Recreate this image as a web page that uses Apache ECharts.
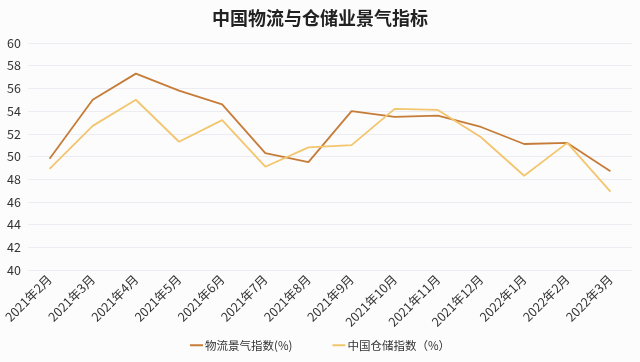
<!DOCTYPE html>
<html>
<head>
<meta charset="utf-8">
<script src="https://cdn.jsdelivr.net/npm/echarts@6/dist/echarts.min.js"></script>
<style>
html,body{margin:0;padding:0;background:#fcfcfd;}
#c{width:640px;height:362px;}
</style>
</head>
<body>
<div id="c"></div>
<script>
const categories = ['2021年2月','2021年3月','2021年4月','2021年5月','2021年6月','2021年7月','2021年8月','2021年9月','2021年10月','2021年11月','2021年12月','2022年1月','2022年2月','2022年3月'];
const logisticsIndex = [49.8, 55.0, 57.3, 55.8, 54.6, 50.3, 49.5, 54.0, 53.5, 53.6, 52.6, 51.1, 51.2, 48.7];
const storageIndex = [48.9, 52.7, 55.0, 51.3, 53.2, 49.1, 50.8, 51.0, 54.2, 54.1, 51.7, 48.3, 51.2, 46.9];
const seriesNames = ['物流景气指数(%)', '中国仓储指数（%）'];
const titleText = '中国物流与仓储业景气指标';

const chart = echarts.init(document.getElementById('c'));
const font = '"Noto Sans CJK SC", "Noto Sans", sans-serif';
chart.setOption({
  backgroundColor: '#fcfcfd',
  animation: false,
  title: {
    text: titleText, left: 'center', top: 4,
    textStyle: { fontSize: 18, fontWeight: 'bold', color: '#222', fontFamily: font }
  },
  legend: {
    bottom: 6, left: 'center', itemWidth: 13, itemHeight: 2, itemGap: 40,
    icon: 'rect',
    textStyle: { fontSize: 11.5, color: '#333', fontFamily: font, padding: [0, 0, 0, -3] },
    data: seriesNames
  },
  grid: { left: 28, right: 8, top: 43, bottom: 92, containLabel: false },
  xAxis: {
    type: 'category', data: categories, boundaryGap: true,
    axisLine: { show: false }, axisTick: { show: false },
    axisLabel: { rotate: 45, fontSize: 12.5, color: '#333', fontFamily: font, interval: 0, margin: 7 }
  },
  yAxis: {
    type: 'value', min: 40, max: 60, interval: 2,
    axisLine: { show: false }, axisTick: { show: false },
    axisLabel: { fontSize: 12.5, color: '#333', fontFamily: font, margin: 7, align: 'right' },
    splitLine: { lineStyle: { color: '#ebedf2', width: 1 } }
  },
  series: [
    { name: seriesNames[0], type: 'line', data: logisticsIndex, symbol: 'none',
      lineStyle: { color: '#c67c38', width: 1.8 }, itemStyle: { color: '#c67c38' } },
    { name: seriesNames[1], type: 'line', data: storageIndex, symbol: 'none',
      lineStyle: { color: '#f3c66e', width: 1.8 }, itemStyle: { color: '#f3c66e' } }
  ]
});
</script>
</body>
</html>
